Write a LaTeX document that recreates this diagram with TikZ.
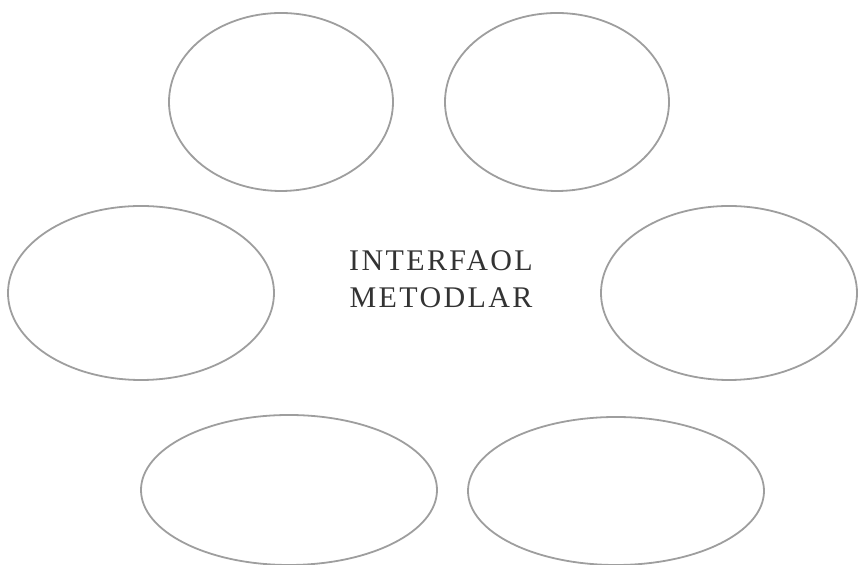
\documentclass[tikz,border=0pt]{standalone}
\usepackage{fontspec}
\setmainfont{Liberation Serif}
\usetikzlibrary{shapes.geometric}
\tikzset{
  oval/.style={ellipse, draw=black!38, line width=0.9pt, inner sep=0pt},
  title/.style={align=center, text=black!80, font=\addfontfeatures{LetterSpace=8}\fontsize{15}{18.5}\selectfont}
}
\begin{document}
\begin{tikzpicture}[x=0.5pt,y=-0.5pt]
\useasboundingbox (0,0) rectangle (868,565);
\node[oval, minimum width=112pt, minimum height=89pt] (tl) at (281,102) {};
\node[oval, minimum width=112pt, minimum height=89pt] (tr) at (557,102) {};
\node[oval, minimum width=133pt, minimum height=87pt] (ml) at (141,293) {};
\node[oval, minimum width=128pt, minimum height=87pt] (mr) at (729,293) {};
\node[oval, minimum width=148pt, minimum height=75pt] (bl) at (289,490) {};
\node[oval, minimum width=148pt, minimum height=74pt] (br) at (616,491) {};
\node[title] (center) at (441,279) {INTERFAOL\\METODLAR};
\end{tikzpicture}
\end{document}
